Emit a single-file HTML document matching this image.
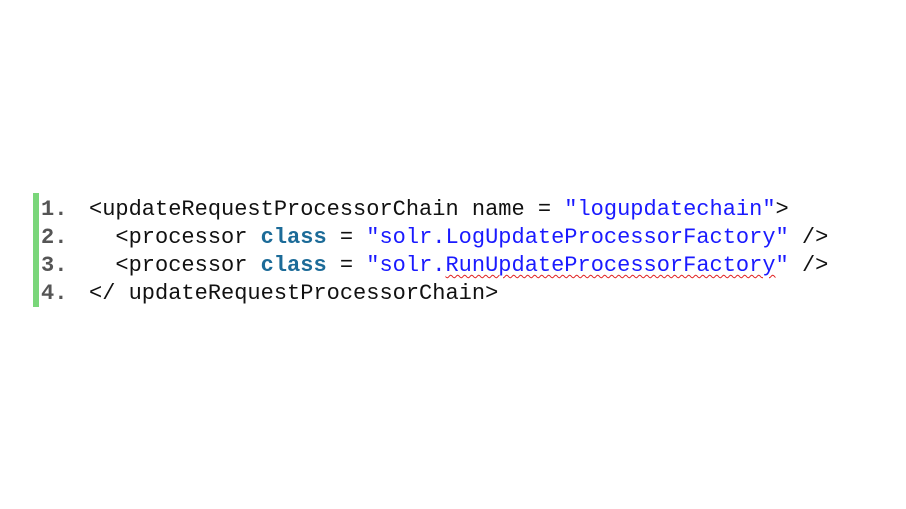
<!DOCTYPE html>
<html><head><meta charset="utf-8"><style>
html,body{margin:0;padding:0;background:#fff;width:906px;height:509px;overflow:hidden}
.bar{position:absolute;left:33px;top:193px;width:6px;height:114px;background:#7ad67a}
.l{position:absolute;font-family:"Liberation Mono","DejaVu Sans Mono",monospace;font-size:22px;line-height:28px;white-space:pre;color:#111}
.n{left:41px;color:#555;font-weight:bold}
.c{left:89px}
.k{color:#1c6b98;font-weight:bold}
.s{color:#1a1aff}
.sq{text-decoration:underline wavy #e02020;text-decoration-thickness:1px;text-underline-offset:3px}
</style></head><body>
<div class="bar"></div>
<div class="l n" style="top:196px">1.</div>
<div class="l n" style="top:224px">2.</div>
<div class="l n" style="top:252px">3.</div>
<div class="l n" style="top:280px">4.</div>
<div class="l c" style="top:196px">&lt;updateRequestProcessorChain name = <span class="s">"logupdatechain"</span>&gt;</div>
<div class="l c" style="top:224px">  &lt;processor <span class="k">class</span> = <span class="s">"solr.LogUpdateProcessorFactory"</span> /&gt;</div>
<div class="l c" style="top:252px">  &lt;processor <span class="k">class</span> = <span class="s">"solr.<span class="sq">RunUpdateProcessorFactory</span>"</span> /&gt;</div>
<div class="l c" style="top:280px">&lt;/ updateRequestProcessorChain&gt;</div>
</body></html>
